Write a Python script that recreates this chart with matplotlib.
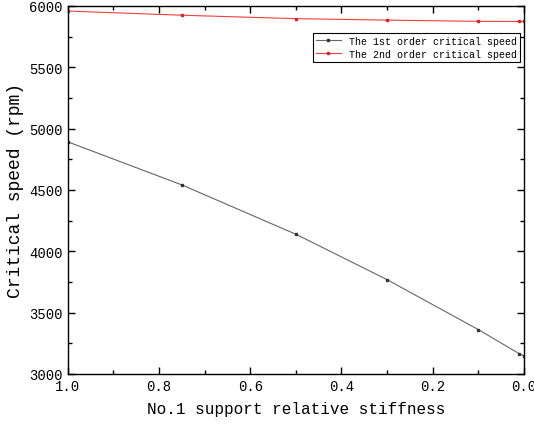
import matplotlib
matplotlib.use("Agg")
import matplotlib.pyplot as plt
from matplotlib.ticker import MultipleLocator

# relative stiffness of support No.1
x_1st = [1.0, 0.75, 0.5, 0.3, 0.1, 0.01, 0.0]
speed_1st = [4892, 4541, 4139, 3769, 3362, 3165, 3148]

x_2nd = [1.0, 0.75, 0.5, 0.3, 0.1, 0.01, 0.0]
speed_2nd = [5958, 5924, 5896, 5884, 5874, 5873, 5873]

labels = ['The 1st order critical speed', 'The 2nd order critical speed']

plt.rcParams['font.family'] = ['Liberation Mono', 'DejaVu Sans Mono']

fig = plt.figure(figsize=(5.34, 4.31), dpi=100)
ax = fig.add_axes([0.127, 0.130, 0.854, 0.854])

ax.plot(x_1st, speed_1st, color='#666666', lw=0.8, marker='s', ms=1.8,
        mfc='#333333', mec='#333333', label=labels[0])
ax.plot(x_2nd, speed_2nd, color='#f04040', lw=0.8, marker='s', ms=1.8,
        mfc='#e02020', mec='#e02020', label=labels[1])

ax.set_xlim(1.0, 0.0)
ax.set_ylim(3000, 6000)
ax.xaxis.set_major_locator(MultipleLocator(0.2))
ax.xaxis.set_minor_locator(MultipleLocator(0.1))
ax.yaxis.set_major_locator(MultipleLocator(500))
ax.yaxis.set_minor_locator(MultipleLocator(250))
ax.xaxis.set_major_formatter(plt.FuncFormatter(lambda v, p: '%.1f' % v))

ax.tick_params(which='both', direction='in', top=True, right=True, labelsize=10, width=1.0)
ax.tick_params(which='major', length=5)
ax.tick_params(which='minor', length=3)
for s in ax.spines.values():
    s.set_linewidth(1.0)

ax.set_xlabel('No.1 support relative stiffness', fontsize=11.5, labelpad=6)
ax.set_ylabel('Critical speed (rpm)', fontsize=13, labelpad=4)

leg = ax.legend(loc='upper right', bbox_to_anchor=(0.991, 0.927), fontsize=7.2,
                frameon=True, fancybox=False, edgecolor='black', framealpha=1,
                handlelength=2.5, borderpad=0.3, labelspacing=0.3, borderaxespad=0)
leg.get_frame().set_linewidth(0.8)

fig.savefig('out.png', dpi=100)
